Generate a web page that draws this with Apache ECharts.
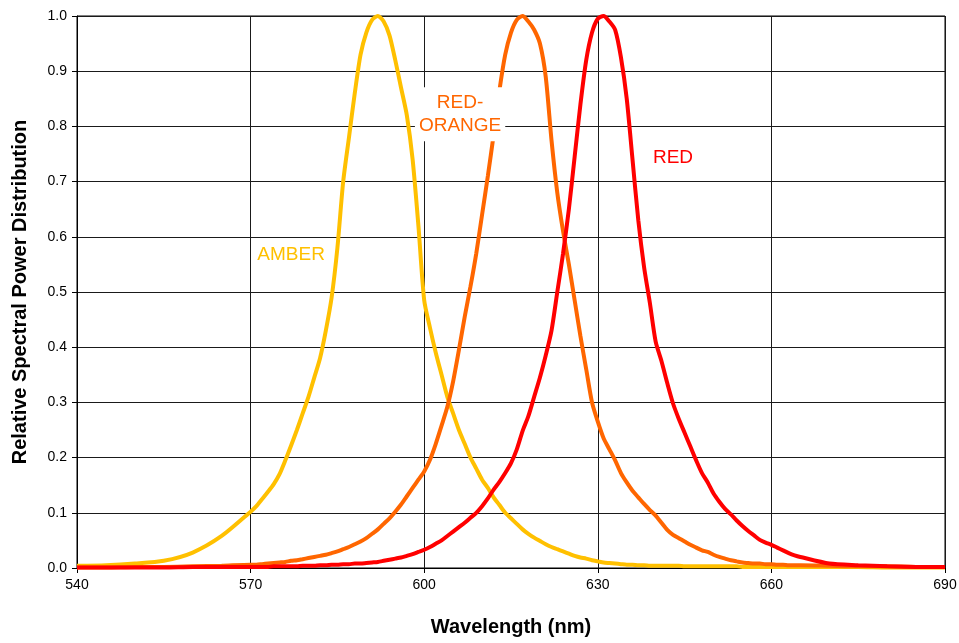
<!DOCTYPE html>
<html>
<head>
<meta charset="utf-8">
<script src="https://cdn.jsdelivr.net/npm/echarts@6/dist/echarts.min.js"></script>
<style>
    html, body { margin: 0; padding: 0; background: #fff; }
    #chart { width: 959px; height: 643px; }
</style>
</head>
<body>
<div id="chart"></div>
<script>
// wavelength (nm): 5 nm steps on the tails, 1 nm steps through the peaks
var wavelengths = [
    540, 545, 550, 555, 560, 565,
    570, 571, 572, 573, 574, 575, 576, 577, 578, 579,
    580, 581, 582, 583, 584, 585, 586, 587, 588, 589,
    590, 591, 592, 593, 594, 595, 596, 597, 598, 599,
    600, 601, 602, 603, 604, 605, 606, 607, 608, 609,
    610, 611, 612, 613, 614, 615, 616, 617, 618, 619,
    620, 621, 622, 623, 624, 625, 626, 627, 628, 629,
    630, 631, 632, 633, 634, 635, 636, 637, 638, 639,
    640, 641, 642, 643, 644, 645, 646, 647, 648, 649,
    650, 651, 652, 653, 654, 655, 656, 657, 658, 659,
    660, 661, 662, 663, 664, 665,
    670, 675, 680, 685, 690
];

var amber = [
    0.004, 0.005, 0.008, 0.013, 0.028, 0.058,
    0.102, 0.112, 0.125, 0.138, 0.152, 0.170, 0.195, 0.222, 0.250, 0.280,
    0.310, 0.345, 0.380, 0.430, 0.490, 0.580, 0.700, 0.780, 0.860, 0.930,
    0.970, 0.993, 1.000, 0.990, 0.965, 0.920, 0.870, 0.820, 0.740, 0.620,
    0.485, 0.435, 0.390, 0.350, 0.310, 0.280, 0.250, 0.225, 0.200, 0.180,
    0.160, 0.145, 0.128, 0.114, 0.100, 0.090, 0.080, 0.070, 0.062, 0.055,
    0.049, 0.043, 0.038, 0.034, 0.030, 0.026, 0.022, 0.019, 0.017, 0.014,
    0.012, 0.010, 0.009, 0.008, 0.007, 0.006, 0.006, 0.005, 0.005, 0.004,
    0.004, 0.004, 0.004, 0.004, 0.004, 0.003, 0.003, 0.003, 0.003, 0.003,
    0.003, 0.003, 0.003, 0.003, 0.003, 0.002, 0.002, 0.002, 0.002, 0.002,
    0.002, 0.002, 0.002, 0.002, 0.002, 0.002,
    0.002, 0.002, 0.001, 0.001, 0.001
];

var redOrange = [
    0.001, 0.001, 0.002, 0.002, 0.003, 0.004,
    0.006, 0.006, 0.007, 0.008, 0.009, 0.010, 0.011, 0.013, 0.014, 0.016,
    0.018, 0.020, 0.022, 0.024, 0.027, 0.030, 0.034, 0.038, 0.043, 0.048,
    0.054, 0.062, 0.070, 0.080, 0.090, 0.102, 0.115, 0.130, 0.145, 0.160,
    0.175, 0.196, 0.225, 0.258, 0.292, 0.338, 0.395, 0.455, 0.510, 0.570,
    0.640, 0.710, 0.785, 0.865, 0.930, 0.970, 0.993, 1.000, 0.990, 0.975,
    0.950, 0.890, 0.775, 0.680, 0.610, 0.550, 0.485, 0.420, 0.360, 0.300,
    0.265, 0.235, 0.215, 0.195, 0.172, 0.155, 0.140, 0.128, 0.116, 0.105,
    0.095, 0.082, 0.069, 0.060, 0.054, 0.048, 0.042, 0.037, 0.032, 0.029,
    0.024, 0.020, 0.017, 0.014, 0.012, 0.010, 0.009, 0.008, 0.008, 0.007,
    0.007, 0.006, 0.006, 0.005, 0.005, 0.005,
    0.004, 0.003, 0.003, 0.002, 0.002
];

var red = [
    0.001, 0.001, 0.001, 0.001, 0.002, 0.002,
    0.002, 0.002, 0.002, 0.002, 0.003, 0.003, 0.003, 0.003, 0.003, 0.004,
    0.004, 0.004, 0.005, 0.005, 0.006, 0.006, 0.007, 0.007, 0.008, 0.008,
    0.009, 0.010, 0.011, 0.013, 0.015, 0.017, 0.019, 0.022, 0.025, 0.029,
    0.033, 0.038, 0.044, 0.050, 0.058, 0.066, 0.074, 0.082, 0.091, 0.100,
    0.112, 0.126, 0.142, 0.156, 0.172, 0.190, 0.215, 0.248, 0.275, 0.310,
    0.345, 0.385, 0.430, 0.500, 0.570, 0.650, 0.745, 0.840, 0.920, 0.970,
    0.995, 1.000, 0.990, 0.975, 0.925, 0.850, 0.740, 0.630, 0.545, 0.480,
    0.410, 0.375, 0.335, 0.298, 0.270, 0.245, 0.220, 0.195, 0.172, 0.155,
    0.135, 0.120, 0.107, 0.097, 0.086, 0.076, 0.067, 0.059, 0.051, 0.046,
    0.042, 0.037, 0.032, 0.027, 0.023, 0.020,
    0.008, 0.005, 0.003, 0.002, 0.002
];

var xTicks = [540, 570, 600, 630, 660, 690];
var yTicks = [0, 0.1, 0.2, 0.3, 0.4, 0.5, 0.6, 0.7, 0.8, 0.9, 1.0];

var FONT = '"Liberation Sans", Arial, sans-serif';

function pairs(values) {
    return wavelengths.map(function (w, i) {
        return [w, values[i]];
    });
}

function curve(name, values, color, label) {
    return {
        name: name,
        type: 'line',
        data: pairs(values),
        showSymbol: false,
        smooth: 0.25,
        lineStyle: { color: color, width: 4 },
        markPoint: {
            symbol: 'circle',
            symbolSize: 0,
            silent: true,
            data: [label]
        }
    };
}

var myChart = echarts.init(document.getElementById('chart'));
myChart.setOption({
    animation: false,
    backgroundColor: '#fff',
    grid: {
        left: 77,
        right: 14,
        top: 16,
        bottom: 75,
        outerBoundsMode: 'none',
        containLabel: false,
        show: true,
        borderColor: '#000',
        borderWidth: 1
    },
    xAxis: {
        type: 'value',
        min: xTicks[0],
        max: xTicks[xTicks.length - 1],
        interval: 30,
        name: 'Wavelength (nm)',
        nameLocation: 'middle',
        nameGap: 49,
        nameTextStyle: { fontFamily: FONT, fontSize: 20, fontWeight: 'bold', color: '#000' },
        axisLine: { lineStyle: { color: '#000', width: 1 } },
        axisTick: { show: true, length: 5, lineStyle: { color: '#000' } },
        axisLabel: { fontFamily: FONT, fontSize: 14, color: '#000', margin: 10 },
        splitLine: { show: true, lineStyle: { color: '#1a1a1a', width: 1 } }
    },
    yAxis: {
        type: 'value',
        min: yTicks[0],
        max: yTicks[yTicks.length - 1],
        interval: 0.1,
        name: 'Relative Spectral Power Distribution',
        nameLocation: 'middle',
        nameGap: 47,
        nameTextStyle: { fontFamily: FONT, fontSize: 20, fontWeight: 'bold', color: '#000' },
        axisLine: { lineStyle: { color: '#000', width: 1 } },
        axisTick: { show: true, length: 5, lineStyle: { color: '#000' } },
        axisLabel: {
            fontFamily: FONT, fontSize: 14, color: '#000', margin: 10,
            formatter: function (v) { return v.toFixed(1); }
        },
        splitLine: { show: true, lineStyle: { color: '#1a1a1a', width: 1 } }
    },
    series: [
        curve('AMBER', amber, '#FFC000', {
            coord: [577, 0.567],
            label: {
                show: true, position: 'inside', formatter: 'AMBER',
                fontFamily: FONT, fontSize: 19, color: '#FFC000'
            }
        }),
        curve('RED-ORANGE', redOrange, '#FF6600', {
            coord: [606.2, 0.822],
            label: {
                show: true, position: 'inside', formatter: 'RED-\nORANGE',
                fontFamily: FONT, fontSize: 19, lineHeight: 23, color: '#FF6600',
                align: 'center', backgroundColor: '#fff', padding: [4, 4, 4, 4]
            }
        }),
        curve('RED', red, '#FF0000', {
            coord: [643, 0.743],
            label: {
                show: true, position: 'inside', formatter: 'RED',
                fontFamily: FONT, fontSize: 19, color: '#FF0000'
            }
        })
    ]
});
</script>
</body>
</html>
